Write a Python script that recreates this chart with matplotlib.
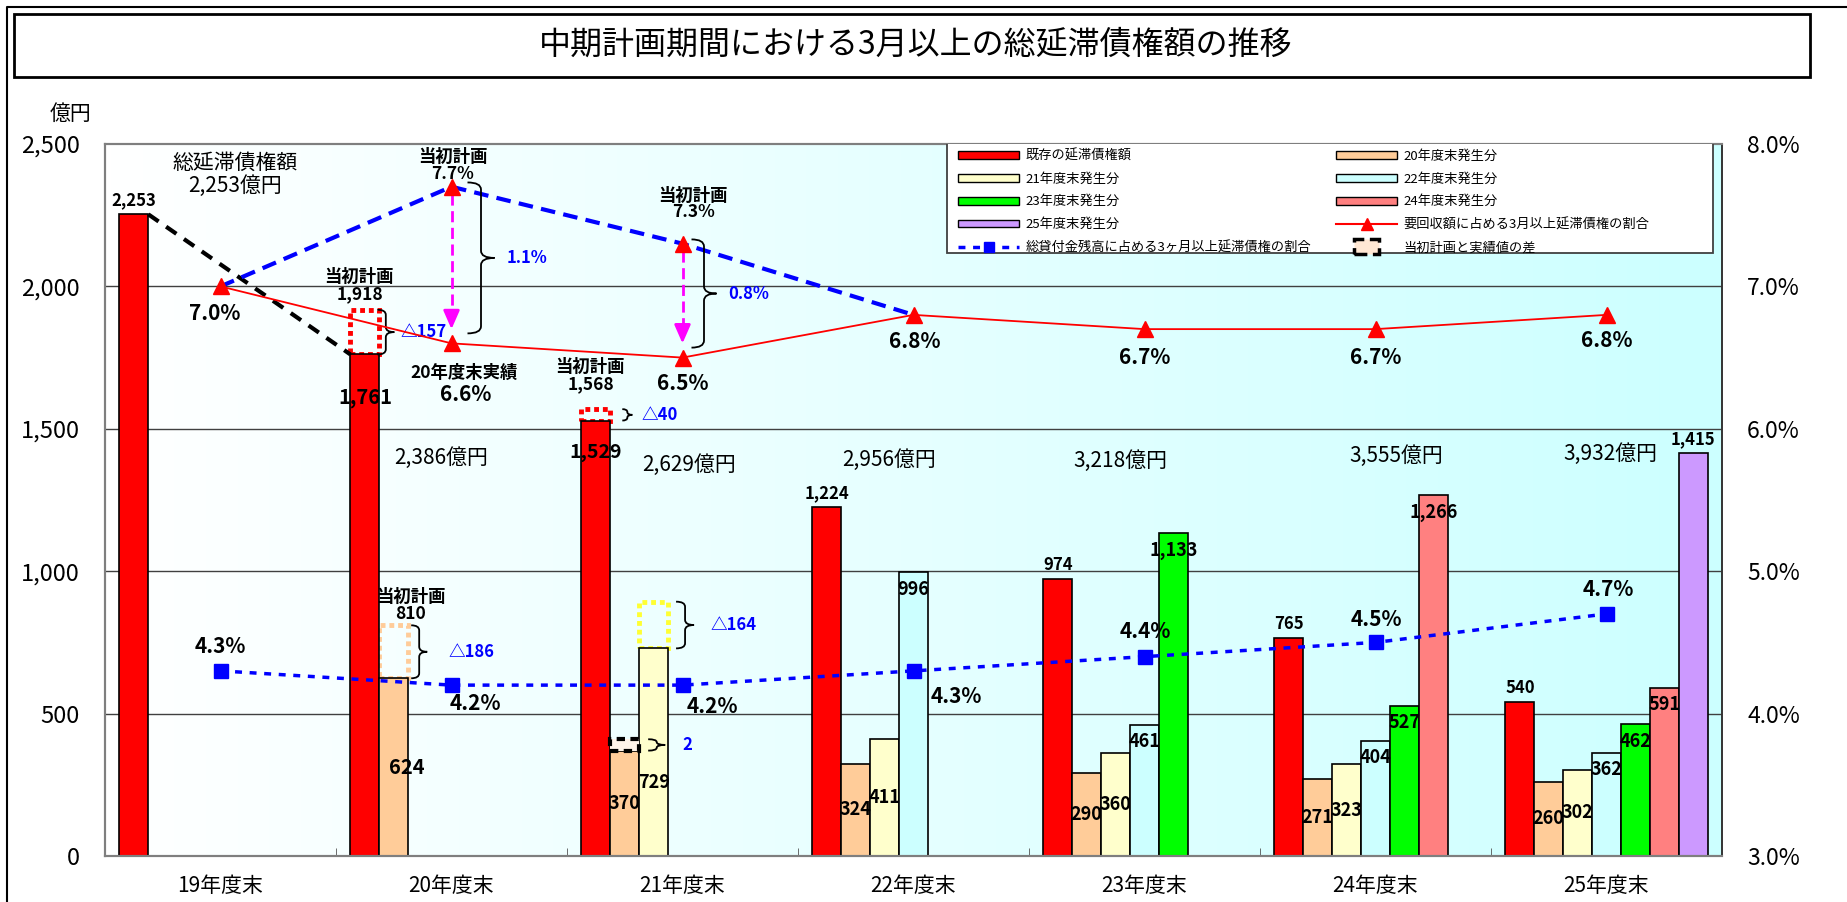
import numpy as np
import matplotlib.pyplot as plt
from matplotlib.colors import LinearSegmentedColormap
from matplotlib.patches import Rectangle, Patch, PathPatch
from matplotlib.path import Path
from matplotlib.lines import Line2D
from matplotlib.legend_handler import HandlerPatch
from matplotlib.ticker import FuncFormatter

plt.rcParams['font.family'] = ['Noto Sans CJK JP', 'DejaVu Sans']

# ---- data ----
years = ['19年度末', '20年度末', '21年度末', '22年度末', '23年度末', '24年度末', '25年度末']
series_names = ['既存の延滞債権額', '20年度末発生分', '21年度末発生分', '22年度末発生分',
                '23年度末発生分', '24年度末発生分', '25年度末発生分']
existing = [2253, 1761, 1529, 1224, 974, 765, 540]
gen20 = [None, 624, 370, 324, 290, 271, 260]
gen21 = [None, None, 729, 411, 360, 323, 302]
gen22 = [None, None, None, 996, 461, 404, 362]
gen23 = [None, None, None, None, 1133, 527, 462]
gen24 = [None, None, None, None, None, 1266, 591]
gen25 = [None, None, None, None, None, None, 1415]
totals = [2253, 2386, 2629, 2956, 3218, 3555, 3932]

collect_ratio = [7.0, 6.6, 6.5, 6.8, 6.7, 6.7, 6.8]   # 要回収額に占める割合
loan_ratio = [4.3, 4.2, 4.2, 4.3, 4.4, 4.5, 4.7]      # 総貸付金残高に占める割合
plan_ratio = [7.0, 7.7, 7.3, 6.8]                     # 当初計画

# 当初計画 for individual bars: series index, year index, planned amount, gap label
plan_series = [0, 1, 0, 2, 1]
plan_year = [1, 1, 2, 2, 2]
plan_amount = [1918, 810, 1568, 893, 372]
plan_gap = ['△157', '△186', '△40', '△164', '2']

bar_series = [existing, gen20, gen21, gen22, gen23, gen24, gen25]
colors = ['#FF0000', '#FFCC99', '#FFFFCC', '#CCFFFF', '#00FF00', '#FF8080', '#CC99FF']
plan_edge = ['#FF0000', '#FFCC99', '#FF0000', '#FFFF33', 'black']

# ---- layout ----
W, H = 1847, 902
L, R, B, T = 105, 1722, 856, 144
fig = plt.figure(figsize=(W / 100, H / 100), dpi=100)
ax = fig.add_axes([L / W, 1 - B / H, (R - L) / W, (B - T) / H])
ax2 = ax.twinx()
PX = 7 / (R - L)          # x data units per pixel
w = 1 / 8                 # bar width (7 series + gap)


def bar_left(i, k):
    return i - 0.5 + w / 2 + k * w


def note(axis, x, y, s, dx=0, dy=0, size=12, color='black', weight='bold', ha='center'):
    axis.annotate(s, (x, y), xytext=(dx, dy), textcoords='offset pixels', ha=ha, va='center',
                  fontsize=size, color=color, fontweight=weight, zorder=8, annotation_clip=False)


def brace(axis, x, y0, y1, width, r, lw=1.3):
    h = width / 2
    ym = (y0 + y1) / 2
    r = min(r, (y1 - y0) / 4)
    verts = [(x, y1), (x + h, y1), (x + h, y1 - r), (x + h, ym + r),
             (x + h, ym), (x + width, ym), (x + h, ym), (x + h, ym - r),
             (x + h, y0 + r), (x + h, y0), (x, y0)]
    codes = [Path.MOVETO, Path.CURVE3, Path.CURVE3, Path.LINETO,
             Path.CURVE3, Path.CURVE3, Path.CURVE3, Path.CURVE3,
             Path.LINETO, Path.CURVE3, Path.CURVE3]
    axis.add_patch(PathPatch(Path(verts, codes), fill=False, ec='black', lw=lw, zorder=6))
    return x + width


# background gradient
bg = LinearSegmentedColormap.from_list('bg', ['#FFFFFF', '#CCFFFF'])
ax.imshow(np.linspace(0, 1, 256).reshape(1, -1), cmap=bg, extent=[0, 1, 0, 1],
          transform=ax.transAxes, aspect='auto', zorder=0)
for g in (500, 1000, 1500, 2000):
    ax.axhline(g, color='#404040', lw=1.0, zorder=1)

# bars
for k, vals in enumerate(bar_series):
    xs = [bar_left(i, k) for i, v in enumerate(vals) if v is not None]
    hs = [v for v in vals if v is not None]
    ax.bar(xs, hs, width=w, align='edge', color=colors[k], edgecolor='black',
           linewidth=1.2, zorder=2)

# bar value labels
label_override = {(0, 1): (0, -43, 14.5), (0, 2): (0, -32, 14), (1, 1): (13, None, 14.5),
                  (2, 2): (0, -134, 13)}
for k, vals in enumerate(bar_series):
    for i, v in enumerate(vals):
        if v is None:
            continue
        xc = bar_left(i, k) + w / 2
        if (k, i) in label_override:
            dx, dy, size = label_override[(k, i)]
        elif k in (0, 6):
            dx, dy, size = 0, 14, 12
        elif k in (1, 2):
            dx, dy, size = 0, None, 13
        else:
            dx, dy, size = 0, -17, 13
        if dy is None:
            note(ax, xc, v / 2, f'{v:,}', dx=dx, size=size)
        else:
            note(ax, xc, v, f'{v:,}', dx=dx, dy=dy, size=size)

# total amount labels
total_pos = [(15, 2353), (-10, 1397), (7, 1373), (-24, 1390), (-24, 1387), (21, 1404), (4, 1411)]
for i, (t, (dx, y)) in enumerate(zip(totals, total_pos)):
    note(ax, i, y, f'{t:,}億円', dx=dx, size=15, weight='normal')
note(ax, 0, total_pos[0][1], '総延滞債権額', dx=15, dy=23, size=15, weight='normal')

# decline of existing balance from 19 to 20
ax.plot([bar_left(0, 0) + w, bar_left(1, 0)], [existing[0], existing[1]],
        color='black', lw=3, ls=(0, (3, 2.2)), zorder=3)

# planned amounts vs actual
brace_dx = [-2, 3, 12, 8, 9]
brace_w = [17, 16, 10, 18, 17]
gap_dx = [6, 21, 9, 16, 17]
plan_note = {0: ((-6, 33), (-5, 16)), 1: ((17, 28), (17, 11)), 2: ((-6, 42), (-5, 25))}
for n, (s, i, p, gap) in enumerate(zip(plan_series, plan_year, plan_amount, plan_gap)):
    actual = bar_series[s][i]
    top = max(p, actual + 40)
    x0 = bar_left(i, s)
    if plan_edge[n] == 'black':
        ax.add_patch(Rectangle((x0, actual), w, top - actual, fc='#FFF4EA', ec='black',
                               lw=3, ls=(0, (2, 1.3)), zorder=3))
    else:
        ax.add_patch(Rectangle((x0, actual), w, top - actual, fill=False, ec=plan_edge[n],
                               lw=3.5, ls=(0, (1, 0.8)), zorder=1.8))
    tip = brace(ax, x0 + w + brace_dx[n] * PX, actual, top, brace_w[n] * PX, 18)
    note(ax, tip, (actual + top) / 2, gap, dx=gap_dx[n], size=12, color='blue', ha='left')
    if n in plan_note:
        (ax1_, ay1), (ax2_, ay2) = plan_note[n]
        note(ax, x0 + w / 2, p, '当初計画', dx=ax1_, dy=ay1, size=12.5)
        note(ax, x0 + w / 2, p, f'{p:,}', dx=ax2_, dy=ay2, size=12.5)

# ratio lines (right axis)
xs = np.arange(len(years))
ax2.plot(xs[:len(plan_ratio)], plan_ratio, color='blue', lw=3, ls=(0, (3.5, 2)), zorder=3)
ax2.plot(xs, collect_ratio, color='red', lw=1.3, marker='^', ms=11, zorder=4)
ax2.plot(xs[1:3], plan_ratio[1:3], ls='none', marker='^', ms=11, color='red', zorder=5)
ax2.plot(xs, loan_ratio, color='blue', lw=2.5, ls=(0, (2, 2.2)), marker='s', ms=10.5, zorder=4)

collect_off = [(-6, -27), (14, -51), (0, -26), (1, -27), (0, -28), (0, -28), (0, -26)]
for i, (v, (dx, dy)) in enumerate(zip(collect_ratio, collect_off)):
    note(ax2, i, v, f'{v:.1f}%', dx=dx, dy=dy, size=15)
note(ax2, 1, collect_ratio[1], '20年度末実績', dx=13, dy=-30, size=12.5)

loan_off = [(0, 24), (24, -18), (30, -21), (43, -26), (1, 25), (1, 23), (2, 24)]
for i, (v, (dx, dy)) in enumerate(zip(loan_ratio, loan_off)):
    note(ax2, i, v, f'{v:.1f}%', dx=dx, dy=dy, size=15)

# planned ratio notes, arrows and gaps
ratio_note = {1: ((1, 30), (1, 13), 16, 27), 2: ((10, 48), (11, 32), 9, 25)}
for i, ((tx, ty), (vx, vy), bdx, bw) in ratio_note.items():
    p, a = plan_ratio[i], collect_ratio[i]
    note(ax2, i, p, '当初計画', dx=tx, dy=ty, size=12.5)
    note(ax2, i, p, f'{p:.1f}%', dx=vx, dy=vy, size=12.5)
    ax2.plot([i, i], [p - 0.05, a + 0.2], color='#FF00FF', lw=2, ls=(0, (4, 2)), zorder=4)
    ax2.annotate('', xy=(i, a + 0.08), xytext=(i, a + 0.22),
                 arrowprops=dict(arrowstyle='-|>,head_length=0.8,head_width=0.35',
                                 color='#FF00FF', lw=2, mutation_scale=14), zorder=4)
    tip = brace(ax2, i + bdx * PX, a + 0.07, p + 0.03, bw * PX, 0.05)
    note(ax2, tip, (a + 0.07 + p + 0.03) / 2, f'{p - a:.1f}%', dx=12, size=12, color='blue', ha='left')

# axes styling
ax.set_xlim(-0.5, 6.5)
ax.set_ylim(0, 2500)
ax2.set_ylim(3, 8)
ax.set_xticks(xs)
ax.set_xticklabels(years, fontsize=15)
ax.set_xticks(np.arange(0.5, 6, 1), minor=True)
ax.tick_params(axis='x', which='major', length=0, pad=14)
ax.tick_params(axis='x', which='minor', direction='in', length=6, color='#555555')
ax.set_yticks(range(0, 2501, 500))
ax.yaxis.set_major_formatter(FuncFormatter(lambda v, _: f'{v:,.0f}'))
ax.tick_params(axis='y', length=0, pad=18, labelsize=17)
ax2.set_yticks(np.arange(3, 8.01, 1))
ax2.yaxis.set_major_formatter(FuncFormatter(lambda v, _: f'{v:.1f}%'))
ax2.tick_params(axis='y', length=0, pad=18, labelsize=16.5)
for a_ in (ax, ax2):
    for sp in a_.spines.values():
        sp.set_color('#7F7F7F')
        sp.set_linewidth(1.5)
    a_.spines['right'].set_color('#333333')
    a_.spines['right'].set_linewidth(1.2)

# legend
ax2.add_patch(Rectangle((0.5207, 0.8469), 0.4737, 0.1545, transform=ax2.transAxes,
                        fc='white', ec='#404040', lw=1.3, zorder=6))


def gap_box(legend, orig_handle, xdescent, ydescent, width, height, fontsize):
    bw, bh = width * 0.42, fontsize * 1.15
    return Rectangle((width / 2 - bw / 2 - xdescent, height / 2 - bh / 2 - ydescent), bw, bh)


gap_handle = Patch(fc='#FFE8D4', ec='black', lw=2.5, ls='--')
col1 = [Patch(fc=colors[0], ec='black'), Patch(fc=colors[2], ec='black'),
        Patch(fc=colors[4], ec='black'), Patch(fc=colors[6], ec='black'),
        Line2D([], [], color='blue', lw=2.5, ls=(0, (2, 2.2)), marker='s', ms=7)]
col2 = [Patch(fc=colors[1], ec='black'), Patch(fc=colors[3], ec='black'),
        Patch(fc=colors[5], ec='black'),
        Line2D([], [], color='red', lw=1.5, marker='^', ms=8), gap_handle]
labels1 = [series_names[0], series_names[2], series_names[4], series_names[6],
           '総貸付金残高に占める3ヶ月以上延滞債権の割合']
labels2 = [series_names[1], series_names[3], series_names[5],
           '要回収額に占める3月以上延滞債権の割合', '当初計画と実績値の差']
leg = ax2.legend(col1 + col2, labels1 + labels2, ncol=2, loc='upper left',
                 bbox_to_anchor=(0.5244, 1.0), frameon=False, fontsize=9.5,
                 handlelength=4.6, handleheight=0.55, handletextpad=0.5,
                 columnspacing=1.9, labelspacing=0.75, borderpad=0.4, borderaxespad=0,
                 handler_map={gap_handle: HandlerPatch(patch_func=gap_box)})
leg.set_zorder(7)

# title box, frame and unit
fig.add_artist(Rectangle((14 / W, 1 - 77 / H), (1810 - 14) / W, 63 / H, transform=fig.transFigure,
                         fill=False, ec='black', lw=2))
fig.add_artist(Line2D([7 / W, 7 / W, 1], [0, 1 - 7 / H, 1 - 7 / H], transform=fig.transFigure,
                      color='black', lw=1.5))
fig.text(916 / W, 1 - 45 / H, '中期計画期間における3月以上の総延滞債権額の推移',
         ha='center', va='center', fontsize=23)
fig.text(71 / W, 1 - 114 / H, '億円', ha='center', va='center', fontsize=15)

fig.savefig('out.png', dpi=100)
